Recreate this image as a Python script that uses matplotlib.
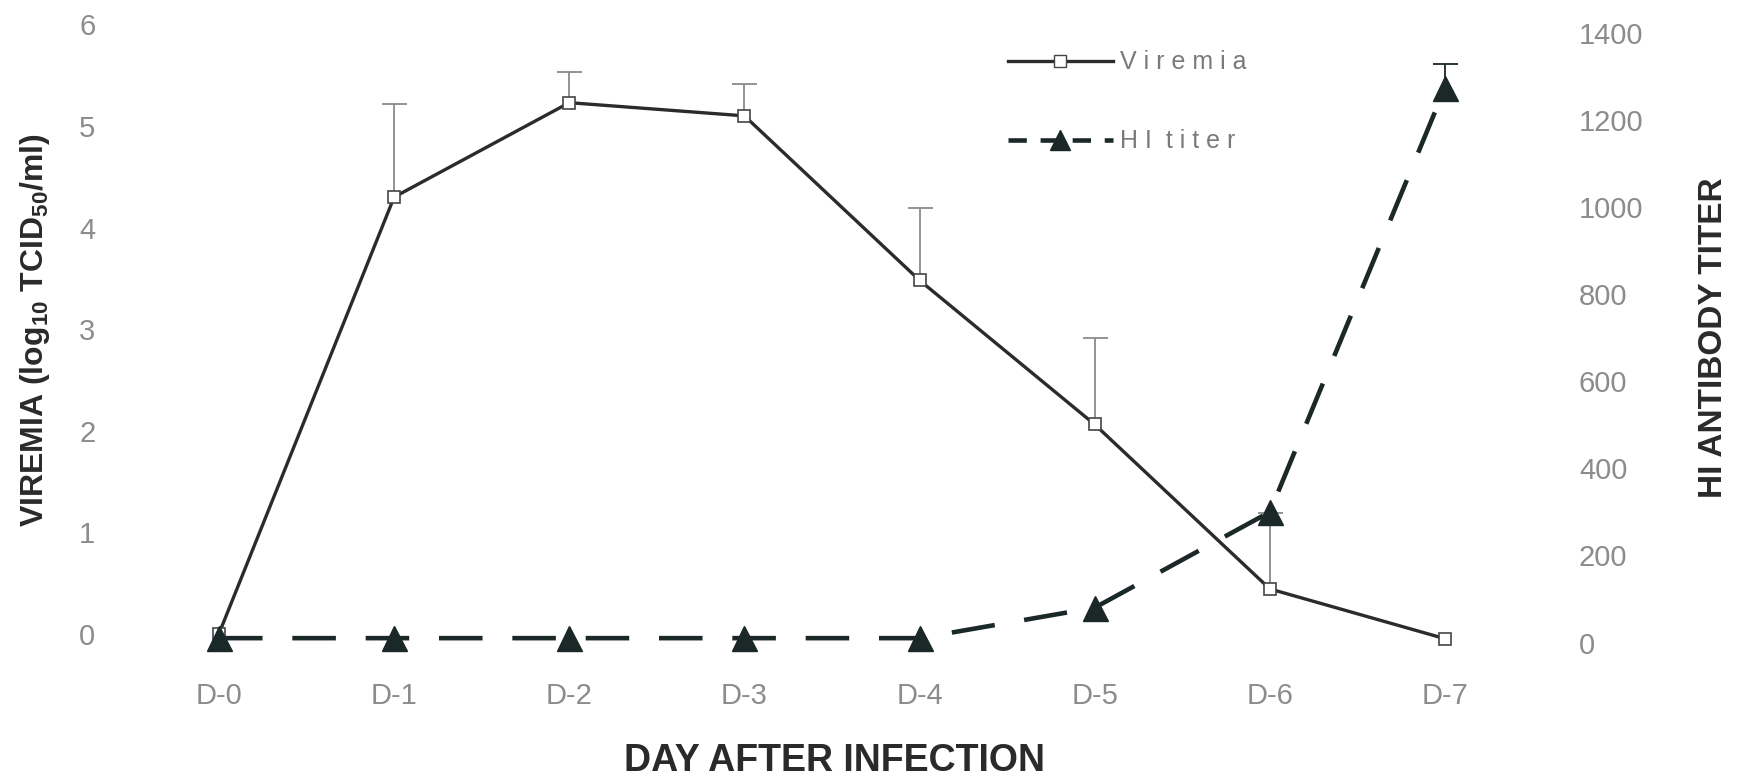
import matplotlib
matplotlib.use("Agg")
import matplotlib.pyplot as plt
from matplotlib.lines import Line2D
from matplotlib import font_manager

days = ["D-0", "D-1", "D-2", "D-3", "D-4", "D-5", "D-6", "D-7"]
viremia = [0.0, 4.30, 5.23, 5.10, 3.48, 2.06, 0.44, -0.05]
viremia_err = [0.0, 0.92, 0.30, 0.31, 0.71, 0.85, 0.75, 0.0]
hi_titer = [10, 10, 10, 10, 10, 80, 300, 1275]
hi_err = [0, 0, 0, 0, 0, 0, 0, 55]
left_ticks = [0, 1, 2, 3, 4, 5, 6]
right_ticks = [0, 200, 400, 600, 800, 1000, 1200, 1400]

names = {f.name for f in font_manager.fontManager.ttflist}
main_font = "Liberation Sans Narrow" if "Liberation Sans Narrow" in names else "Liberation Sans"
narrow = [main_font, "DejaVu Sans"]

W, H = 1743, 778
fig = plt.figure(figsize=(W / 100, H / 100), dpi=100)
plt.rcParams["mathtext.fontset"] = "custom"
plt.rcParams["mathtext.rm"] = main_font + ":bold"
plt.rcParams["mathtext.it"] = main_font + ":bold"
plt.rcParams["mathtext.bf"] = main_font + ":bold"

# axes position in pixels
x_left_px, x_right_px = 105, 1565
y_top_px, y_bot_px = 4.2, 660.0
ax = fig.add_axes([x_left_px / W, 1 - y_bot_px / H,
                   (x_right_px - x_left_px) / W, (y_bot_px - y_top_px) / H])
ax2 = ax.twinx()

xs = list(range(len(days)))
line_col = "#2b2b2b"
dash_col = "#1a2828"
err_col = "#8a8a8a"
tick_col = "#8c8c8c"


def upper_errorbars(a, x, y, e, color):
    sel = [i for i in range(len(x)) if e[i] > 0]
    xx = [x[i] for i in sel]
    yy = [y[i] for i in sel]
    ee = [e[i] for i in sel]
    res = a.errorbar(xx, yy, yerr=[[0] * len(sel), ee], fmt="none",
                     ecolor=color, elinewidth=1.3, capsize=9, capthick=1.3, zorder=2)
    res[1][0].set_visible(False)


upper_errorbars(ax, xs, viremia, viremia_err, err_col)
ax.plot(xs, viremia, color=line_col, lw=2.4, marker="s", ms=9,
        mfc="white", mec="#444444", mew=1.2, zorder=4)

upper_errorbars(ax2, xs, hi_titer, hi_err, dash_col)
ax2.plot(xs, hi_titer, color=dash_col, lw=3.3, dashes=(9.5, 6.5),
         marker="^", ms=18, mfc=dash_col, mec=dash_col, zorder=3)

px_per_x = (1445 - 219) / 7.0
ax.set_xlim((x_left_px - 219) / px_per_x, (x_right_px - 219) / px_per_x)
px_per_left = (633.6 - 24.5) / 6.0
ax.set_ylim(-(y_bot_px - 633.6) / px_per_left, (633.6 - y_top_px) / px_per_left)
px_per_right = (642.5 - 33.3) / 1400.0
ax2.set_ylim(-(y_bot_px - 642.5) / px_per_right, (642.5 - y_top_px) / px_per_right)

for a in (ax, ax2):
    for s in a.spines.values():
        s.set_visible(False)
    a.tick_params(length=0, colors=tick_col)

ax.set_xticks(xs)
ax.set_xticklabels(days, family=narrow, color=tick_col, fontsize=21)
ax.tick_params(axis="x", pad=16)
ax.set_yticks(left_ticks)
ax.set_yticklabels([str(t) for t in left_ticks], family=narrow, color=tick_col, fontsize=21)
ax.tick_params(axis="y", pad=7)
ax2.set_yticks(right_ticks)
ax2.set_yticklabels([str(t) for t in right_ticks],
                    family=narrow, color=tick_col, fontsize=21)
ax2.tick_params(axis="y", pad=10)

fig.text(35 / W, 1 - 330 / H, r"VIREMIA (log$_{10}$ TCID$_{50}$/ml)", rotation=90,
         ha="center", va="center", family=narrow, weight="bold", fontsize=23, color="#2a2a2a")
fig.text(1713 / W, 1 - 338 / H, "HI ANTIBODY TITER", rotation=90,
         ha="center", va="center", family=narrow, weight="bold", fontsize=24, color="#2a2a2a")
fig.text(834 / W, 1 - 761 / H, "DAY AFTER INFECTION",
         ha="center", va="center", family=narrow, weight="bold", fontsize=27, color="#2a2a2a")

h1 = Line2D([], [], color=line_col, lw=2.4, marker="s", ms=9, mfc="white", mec="#444444")
h2 = Line2D([], [], color=dash_col, lw=3.3, dashes=(4, 3), marker="^", ms=14, mfc=dash_col)
leg = ax.legend([h1, h2], ["V i r e m i a", "H I  t i t e r"], loc="upper left",
                bbox_to_anchor=((985 - x_left_px) / (x_right_px - x_left_px),
                                1 - (28 - y_top_px) / (y_bot_px - y_top_px)),
                frameon=False, handlelength=4.2, labelspacing=2.2, handletextpad=0.3,
                prop={"family": narrow, "size": 18})
for t in leg.get_texts():
    t.set_color("#7a7a7a")

fig.savefig("out.png", dpi=100, facecolor="white")
